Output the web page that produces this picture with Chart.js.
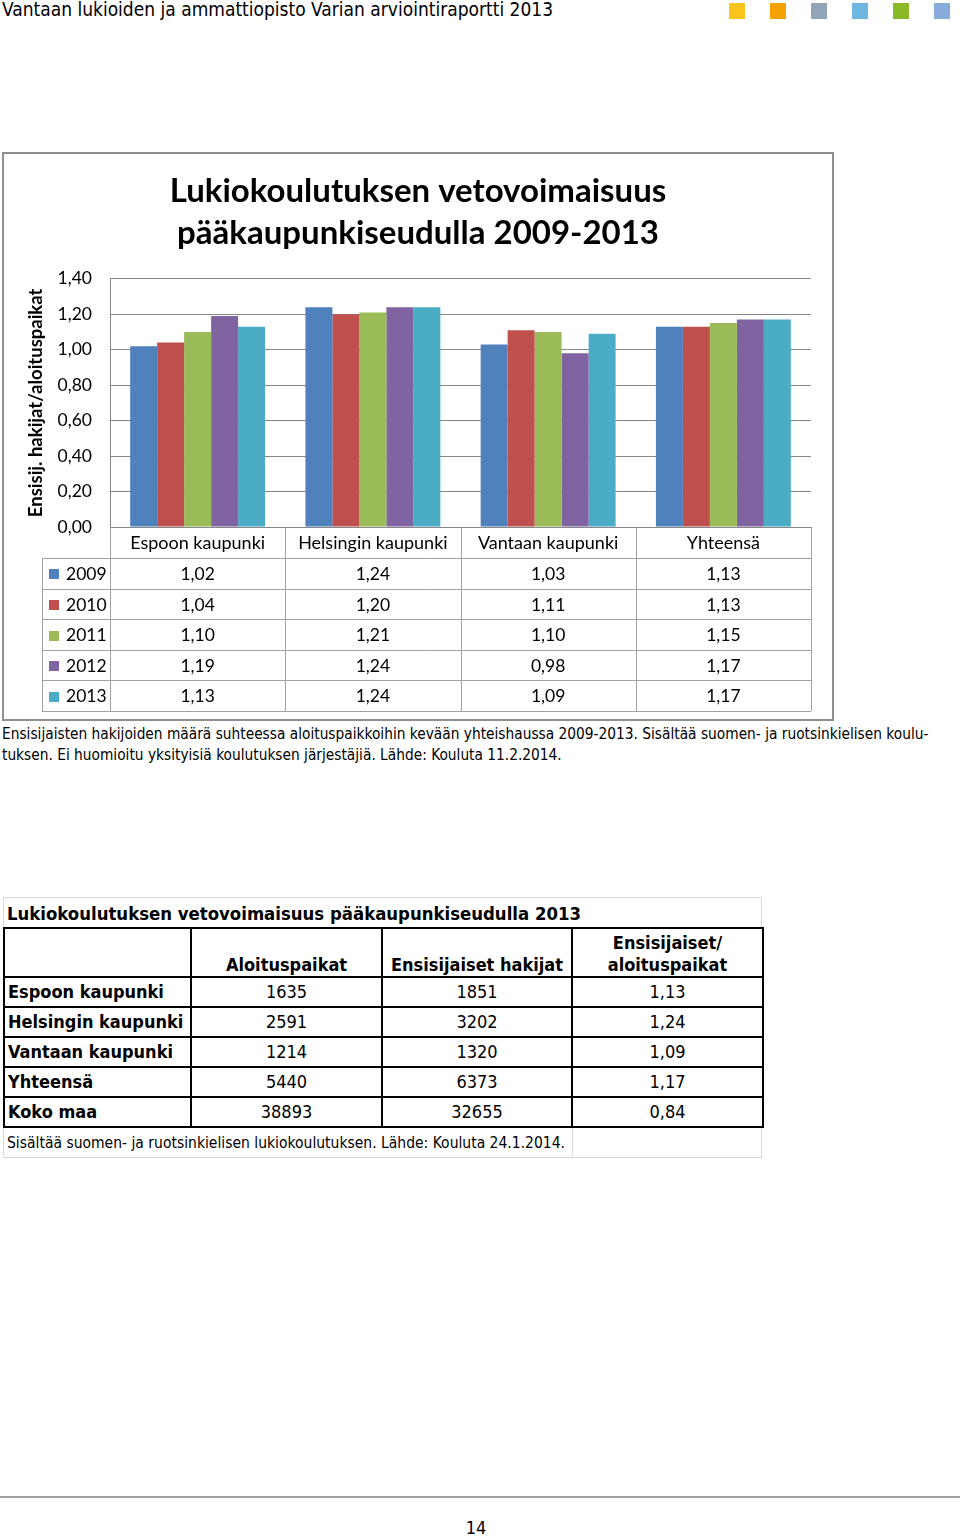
<!DOCTYPE html>
<html lang="fi">
<head>
<meta charset="UTF-8">
<title>Lukiokoulutuksen vetovoimaisuus</title>
<script src="https://cdn.jsdelivr.net/npm/chart.js"></script>
<style>
    body { margin: 0; background: #fff; width: 960px; height: 1539px; position: relative; overflow: hidden; font-family: "DejaVu Sans Condensed", "DejaVu Sans", sans-serif; color: #000; }
    .header { position: absolute; left: 2px; top: -2px; font-size: 19px; white-space: nowrap; }
    .sq { position: absolute; top: 3px; width: 16px; height: 16px; }
    #frame { position: absolute; left: 2px; top: 152px; width: 828px; height: 565px; border: 2px solid #8f8f8f; }
    #frame canvas { display: block; }
    .caption { position: absolute; left: 2px; top: 724px; width: 950px; font-size: 15.3px; line-height: 21px; white-space: nowrap; }
    .t2 { position: absolute; left: 3px; top: 897px; width: 759px; }
    .t2 .title { height: 29px; border: 1px solid #d9d9d9; border-bottom: none; font-weight: bold; font-size: 18.4px; line-height: 32px; padding-left: 3px; white-space: nowrap; }
    .t2 table { border-collapse: collapse; width: 759px; table-layout: fixed; }
    .t2 td { border: 2px solid #000; padding: 0 3px; font-size: 18px; height: 28px; line-height: 28px; text-align: center; white-space: nowrap; }
    .t2 td.lab { text-align: left; font-weight: bold; }
    .t2 tr.head td { font-weight: bold; height: 47px; line-height: 22px; vertical-align: bottom; }
    .t2 .foot { display: flex; height: 29px; border: 1px solid #d9d9d9; border-top: none; font-size: 15.5px; line-height: 31px; }
    .t2 .foot div:first-child { width: 565px; padding-left: 3px; border-right: 1px solid #d9d9d9; white-space: nowrap; }
    .rule { position: absolute; left: 0; top: 1496px; width: 960px; height: 2px; background: #a0a0a0; }
    .pageno { position: absolute; left: 0; width: 952px; top: 1517px; text-align: center; font-size: 18px; }
</style>
</head>
<body>
<div class="header">Vantaan lukioiden ja ammattiopisto Varian arviointiraportti 2013</div>
<div class="sq" style="left:729px;background:#f9c41b"></div>
<div class="sq" style="left:770px;background:#f5a003"></div>
<div class="sq" style="left:811px;background:#93a3b8"></div>
<div class="sq" style="left:852px;background:#6fb6e1"></div>
<div class="sq" style="left:893px;background:#89b925"></div>
<div class="sq" style="left:934px;background:#87abdb"></div>

<div id="frame"><canvas id="chart" width="828" height="565"></canvas></div>

<div class="caption">Ensisijaisten hakijoiden määrä suhteessa aloituspaikkoihin kevään yhteishaussa 2009-2013. Sisältää suomen- ja ruotsinkielisen koulu-<br>tuksen. Ei huomioitu yksityisiä koulutuksen järjestäjiä. Lähde: Kouluta 11.2.2014.</div>

<div class="t2">
    <div class="title">Lukiokoulutuksen vetovoimaisuus pääkaupunkiseudulla 2013</div>
    <table id="t2"></table>
    <div class="foot"><div>Sisältää suomen- ja ruotsinkielisen lukiokoulutuksen. Lähde: Kouluta 24.1.2014.</div><div></div></div>
</div>

<div class="rule"></div>
<div class="pageno">14</div>

<script>
    // chart data
    const categories = ['Espoon kaupunki', 'Helsingin kaupunki', 'Vantaan kaupunki', 'Yhteensä'];
    const years = ['2009', '2010', '2011', '2012', '2013'];
    const v2009 = [1.02, 1.24, 1.03, 1.13];
    const v2010 = [1.04, 1.20, 1.11, 1.13];
    const v2011 = [1.10, 1.21, 1.10, 1.15];
    const v2012 = [1.19, 1.24, 0.98, 1.17];
    const v2013 = [1.13, 1.24, 1.09, 1.17];
    const yTicks = [0, 0.2, 0.4, 0.6, 0.8, 1.0, 1.2, 1.4];

    // table 2013
    const areas = ['Espoon kaupunki', 'Helsingin kaupunki', 'Vantaan kaupunki', 'Yhteensä', 'Koko maa'];
    const aloituspaikat = [1635, 2591, 1214, 5440, 38893];
    const ensisijaiset = [1851, 3202, 1320, 6373, 32655];
    const suhde = [1.13, 1.24, 1.09, 1.17, 0.84];

    const colors = ['#4f81bd', '#c0504d', '#9bbb59', '#8064a2', '#4bacc6'];
    const series = [v2009, v2010, v2011, v2012, v2013];
    const fmt = v => v.toFixed(2).replace('.', ',');
    const FONT = 'Lato, "Open Sans", sans-serif';

    // data table under the plot, columns taken from the x scale
    const dataTable = {
        id: 'dataTable',
        afterDraw(chart) {
            const ctx = chart.ctx;
            const xs = chart.scales.x;
            const area = chart.chartArea;
            const colW = xs.width / categories.length;
            const top = area.bottom;
            const headH = 31;
            const rowH = 30.6;
            const legLeft = 38;
            const bottom = top + headH + rowH * years.length;

            ctx.save();
            ctx.strokeStyle = '#a0a0a0';
            ctx.lineWidth = 1;
            ctx.beginPath();
            for (let r = 0; r <= years.length; r++) {
                const y = Math.round(top + headH + r * rowH) + 0.5;
                ctx.moveTo(legLeft, y);
                ctx.lineTo(area.right, y);
            }
            ctx.moveTo(legLeft + 0.5, top + headH);
            ctx.lineTo(legLeft + 0.5, bottom);
            for (let c = 0; c <= categories.length; c++) {
                const x = Math.round(area.left + c * colW) + 0.5;
                ctx.moveTo(x, top);
                ctx.lineTo(x, bottom);
            }
            ctx.stroke();

            ctx.fillStyle = '#000';
            ctx.font = '18px ' + FONT;
            ctx.textAlign = 'center';
            ctx.textBaseline = 'middle';
            categories.forEach((c, i) => {
                ctx.fillText(c, xs.getPixelForValue(i), top + headH / 2 + 1);
            });
            ctx.font = '17.5px ' + FONT;
            chart.data.datasets.forEach((ds, r) => {
                const yc = top + headH + r * rowH + rowH / 2 + 1;
                ds.data.forEach((v, i) => {
                    ctx.textAlign = 'center';
                    ctx.fillText(fmt(v), xs.getPixelForValue(i), yc);
                });
                ctx.fillStyle = ds.backgroundColor;
                ctx.fillRect(legLeft + 7, Math.round(yc - 5), 10, 10);
                ctx.fillStyle = '#000';
                ctx.textAlign = 'left';
                ctx.fillText(ds.label, legLeft + 24, yc);
            });
            ctx.restore();
        }
    };

    new Chart(document.getElementById('chart'), {
        type: 'bar',
        data: {
            labels: categories,
            datasets: years.map((y, i) => ({
                label: y,
                data: series[i],
                backgroundColor: colors[i],
                categoryPercentage: 0.77,
                barPercentage: 1.0
            }))
        },
        options: {
            responsive: false,
            animation: false,
            devicePixelRatio: 1,
            layout: { padding: { top: 0, left: 21, right: 21, bottom: 192 } },
            plugins: {
                legend: { display: false },
                tooltip: { enabled: false },
                title: {
                    display: true,
                    text: ['Lukiokoulutuksen vetovoimaisuus', 'pääkaupunkiseudulla 2009-2013'],
                    color: '#000',
                    font: { family: FONT, size: 33, weight: 'bold', lineHeight: 1.3 },
                    padding: { top: 15.5, bottom: 23.5 }
                }
            },
            scales: {
                x: {
                    grid: { display: false, drawTicks: false },
                    border: { display: false },
                    ticks: { display: false },
                    afterFit: s => { s.height = 0; }
                },
                y: {
                    min: 0,
                    max: 1.4,
                    afterBuildTicks: s => { s.ticks = yTicks.map(v => ({ value: v })); },
                    afterFit: s => { s.width = 85; },
                    grid: { color: '#868686', drawTicks: false },
                    border: { display: true, color: '#868686' },
                    ticks: {
                        padding: 18,
                        color: '#000',
                        font: { family: FONT, size: 17.5 },
                        callback: v => fmt(v)
                    },
                    title: {
                        display: true,
                        text: 'Ensisij. hakijat/aloituspaikat',
                        color: '#000',
                        font: { family: FONT, size: 18.5, weight: 'bold' },
                        padding: { top: 0 }
                    }
                }
            }
        },
        plugins: [dataTable]
    });

    // HTML table for 2013
    const t2 = document.getElementById('t2');
    let html = '<colgroup><col style="width:187px"><col style="width:191px"><col style="width:190px"><col style="width:191px"></colgroup>';
    html += '<tr class="head"><td></td><td>Aloituspaikat</td><td>Ensisijaiset hakijat</td><td>Ensisijaiset/<br>aloituspaikat</td></tr>';
    areas.forEach((a, i) => {
        html += '<tr><td class="lab">' + a + '</td><td>' + aloituspaikat[i] + '</td><td>' + ensisijaiset[i] + '</td><td>' + fmt(suhde[i]) + '</td></tr>';
    });
    t2.innerHTML = html;
</script>
</body>
</html>
